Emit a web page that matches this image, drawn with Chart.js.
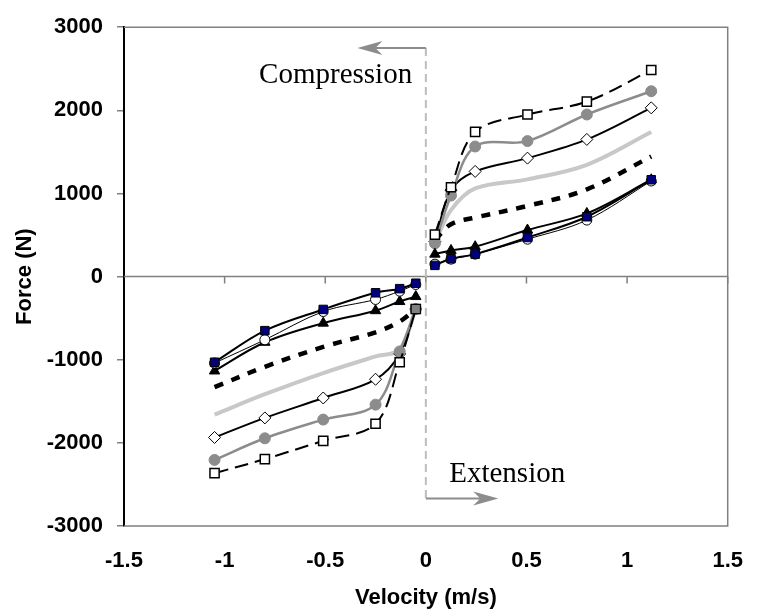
<!DOCTYPE html>
<html>
<head>
<meta charset="utf-8">
<script src="https://cdn.jsdelivr.net/npm/chart.js@4/dist/chart.umd.min.js"></script>
<style>body{margin:0;background:#fff}</style>
</head>
<body>
<canvas id="myChart" width="765" height="612"></canvas>
<script>
// velocities (m/s) of the test points
var velNeg = [-1.05, -0.80, -0.51, -0.25, -0.13, -0.05];
var velPos = [0.045, 0.125, 0.245, 0.505, 0.80, 1.12];

// force (N) for each damper setting, negative side / positive side
var sqNeg = [-2365, -2195, -1975, -1770, -1030, -390];
var sqPos = [505, 1075, 1740, 1950, 2105, 2485];
var dotNeg = [-2205, -1945, -1720, -1540, -900, -390];
var dotPos = [400, 975, 1565, 1630, 1950, 2230];
var diaNeg = [-1935, -1700, -1460, -1235, -930, -390];
var diaPos = [420, 1040, 1265, 1425, 1650, 2030];
var greyNeg = [-1660, -1415, -1160, -960, -875, -390];
var greyPos = [410, 800, 1060, 1170, 1345, 1740];
var dashNeg = [-1330, -1085, -845, -670, -540, -390];
var dashPos = [440, 630, 710, 850, 1050, 1445];
var triNeg = [-1135, -790, -560, -410, -300, -240];
var triPos = [270, 315, 360, 560, 760, 1165];
var ringNeg = [-1040, -760, -420, -275, -175, -95];
var ringPos = [150, 210, 270, 450, 680, 1150];
var navyNeg = [-1030, -650, -395, -195, -145, -80];
var navyPos = [135, 215, 270, 470, 720, 1165];

var yTicks = [-3000, -2000, -1000, 0, 1000, 2000, 3000];
var xTicks = [-1.5, -1, -0.5, 0, 0.5, 1, 1.5];

function pts(vel, f) {
  return vel.map(function (v, i) { return {x: v, y: f[i]}; });
}

function pair(neg, pos, style) {
  var a = Object.assign({data: pts(velNeg, neg)}, style);
  var b = Object.assign({data: pts(velPos, pos)}, style);
  return [a, b];
}

var base = {showLine: true, tension: 0.35, pointBorderWidth: 1, fill: false};

var datasets = [].concat(
  pair(navyNeg, navyPos, Object.assign({}, base, {borderColor: '#000', borderWidth: 2,
    pointStyle: 'rect', pointRadius: 6, pointBackgroundColor: '#000080', pointBorderColor: '#000'})),
  pair(ringNeg, ringPos, Object.assign({}, base, {borderColor: '#000', borderWidth: 1,
    pointStyle: 'circle', pointRadius: 5, pointBackgroundColor: '#fff', pointBorderColor: '#000'})),
  pair(triNeg, triPos, Object.assign({}, base, {borderColor: '#000', borderWidth: 2,
    pointStyle: 'triangle', pointRadius: 6, pointBackgroundColor: '#000', pointBorderColor: '#000'})),
  pair(sqNeg, sqPos, Object.assign({}, base, {borderColor: '#000', borderWidth: 2, borderDash: [14, 7],
    pointStyle: 'rect', pointRadius: 6.5, pointBackgroundColor: '#fff', pointBorderColor: '#000', pointBorderWidth: 1.5})),
  pair(dotNeg, dotPos, Object.assign({}, base, {borderColor: '#8c8c8c', borderWidth: 2.5,
    pointStyle: 'circle', pointRadius: 5.5, pointBackgroundColor: '#8c8c8c', pointBorderColor: '#8c8c8c'})),
  pair(diaNeg, diaPos, Object.assign({}, base, {borderColor: '#000', borderWidth: 2,
    pointStyle: 'rectRot', pointRadius: 6, pointBackgroundColor: '#fff', pointBorderColor: '#000'})),
  pair(dashNeg, dashPos, Object.assign({}, base, {borderColor: '#000', borderWidth: 4.5, borderDash: [9, 9],
    pointStyle: 'rect', pointRadius: [0, 0, 0, 0, 0, 6.5], pointBackgroundColor: '#808080', pointBorderColor: '#000'})),
  pair(greyNeg, greyPos, Object.assign({}, base, {borderColor: '#c8c8c8', borderWidth: 4, pointRadius: 0}))
);
// positive half of the dashed curve has no marker; its grey end square sits on top
datasets[13].pointRadius = 0;
datasets[12].order = -1;

function arrow(ctx, x0, y, x1) {
  var d = x1 > x0 ? 1 : -1;
  ctx.beginPath();
  ctx.moveTo(x0, y);
  ctx.lineTo(x1 - d * 16, y);
  ctx.stroke();
  ctx.beginPath();
  ctx.moveTo(x1, y);
  ctx.lineTo(x1 - d * 25, y - 7);
  ctx.lineTo(x1 - d * 18, y);
  ctx.lineTo(x1 - d * 25, y + 7);
  ctx.closePath();
  ctx.fill();
}

var frame = {
  id: 'frame',
  beforeDatasetsDraw: function (chart) {
    var ctx = chart.ctx, a = chart.chartArea, xs = chart.scales.x, ys = chart.scales.y;
    ctx.save();
    ctx.strokeStyle = '#808080';
    ctx.lineWidth = 1.5;
    ctx.beginPath();
    ctx.moveTo(a.left, a.top);
    ctx.lineTo(a.right, a.top);
    ctx.lineTo(a.right, a.bottom);
    ctx.lineTo(a.left, a.bottom);
    ctx.stroke();

    // zero force axis with ticks below
    var y0 = ys.getPixelForValue(0);
    ctx.beginPath();
    ctx.moveTo(a.left, y0);
    ctx.lineTo(a.right, y0);
    xTicks.slice(1).forEach(function (t) {
      var px = xs.getPixelForValue(t);
      ctx.moveTo(px, y0);
      ctx.lineTo(px, y0 + 7);
    });
    ctx.stroke();

    // guide line with arrows
    var gx = xs.getPixelForValue(0);
    var gTop = ys.getPixelForValue(2750), gBot = ys.getPixelForValue(-2670);
    ctx.strokeStyle = '#bdbdbd';
    ctx.lineWidth = 2;
    ctx.setLineDash([8, 5]);
    ctx.beginPath();
    ctx.moveTo(gx, gTop);
    ctx.lineTo(gx, gBot);
    ctx.stroke();
    ctx.setLineDash([]);
    ctx.strokeStyle = '#8c8c8c';
    ctx.fillStyle = '#8c8c8c';
    arrow(ctx, gx, gTop, xs.getPixelForValue(-0.34));
    arrow(ctx, gx, gBot, xs.getPixelForValue(0.36));

    ctx.fillStyle = '#000';
    ctx.font = '29px "Liberation Serif", "Times New Roman", serif';
    ctx.textBaseline = 'alphabetic';
    ctx.textAlign = 'right';
    ctx.fillText('Compression', xs.getPixelForValue(-0.068), ys.getPixelForValue(2325));
    ctx.textAlign = 'left';
    ctx.fillText('Extension', xs.getPixelForValue(0.116), ys.getPixelForValue(-2475));
    ctx.restore();
  }
};

var boldFont = {family: '"Liberation Sans", Arial, sans-serif', size: 22, weight: 'bold'};
function plain(v) { return String(v); }

new Chart(document.getElementById('myChart'), {
  type: 'scatter',
  data: {datasets: datasets},
  options: {
    responsive: false,
    animation: false,
    devicePixelRatio: 1,
    layout: {padding: {top: 21, right: 21, left: 0, bottom: 0}},
    plugins: {legend: {display: false}, tooltip: {enabled: false}},
    scales: {
      x: {
        type: 'linear', min: -1.5, max: 1.5,
        afterBuildTicks: function (s) { s.ticks = xTicks.map(function (v) { return {value: v}; }); },
        afterFit: function (s) { s.height = 86; },
        grid: {display: false, drawTicks: false},
        border: {display: false},
        ticks: {font: boldFont, color: '#000', padding: 22, maxRotation: 0, callback: plain},
        title: {display: true, text: 'Velocity (m/s)', font: boldFont, color: '#000', padding: {top: 0, bottom: 1}}
      },
      y: {
        min: -3000, max: 3000,
        afterBuildTicks: function (s) { s.ticks = yTicks.map(function (v) { return {value: v}; }); },
        afterFit: function (s) { s.width = 124; },
        grid: {drawOnChartArea: false, tickLength: 7, color: '#808080', lineWidth: 1.5},
        border: {color: '#000', width: 2},
        ticks: {font: boldFont, color: '#000', padding: 14, callback: plain},
        title: {display: true, text: 'Force (N)', font: boldFont, color: '#000', padding: {top: 12, bottom: 0}}
      }
    }
  },
  plugins: [frame]
});
</script>
</body>
</html>
